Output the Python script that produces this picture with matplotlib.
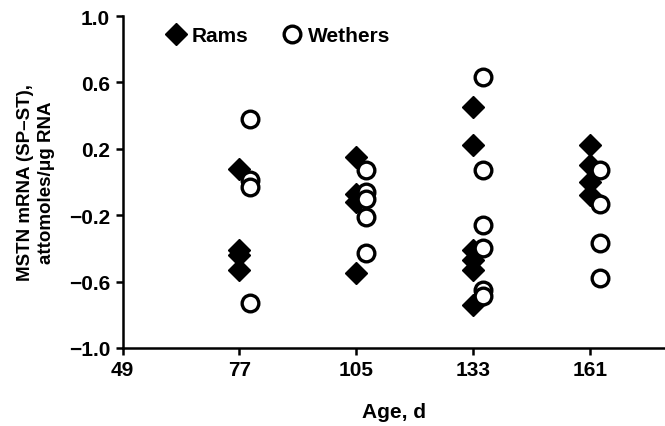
import matplotlib
matplotlib.use('Agg')
import matplotlib.pyplot as plt

plt.rcParams['font.family'] = ['Liberation Sans', 'DejaVu Sans']
plt.rcParams['font.weight'] = 'bold'

# age groups (d)
ages = [77, 105, 133, 161]

# MSTN mRNA (SP-ST), attomoles/ug RNA
rams = [
    [0.08, -0.41, -0.44, -0.53],
    [0.15, -0.07, -0.12, -0.55],
    [0.45, 0.22, -0.41, -0.47, -0.53, -0.74],
    [0.22, 0.10, 0.00, -0.08],
]
wethers = [
    [0.38, 0.01, -0.03, -0.73],
    [0.07, -0.06, -0.10, -0.21, -0.43],
    [0.63, 0.07, -0.26, -0.40, -0.65, -0.69],
    [0.07, -0.13, -0.37, -0.58],
]

xticks = [49, 77, 105, 133, 161]
yticks = [-1.0, -0.6, -0.2, 0.2, 0.6, 1.0]

fs = 15

fig = plt.figure(figsize=(6.65, 4.27), dpi=100)
ax = fig.add_axes([0.1845, 0.183, 0.8155, 0.777])

first = True
for age, r, w in zip(ages, rams, wethers):
    ax.plot([age] * len(r), r, linestyle='none', marker='D', markersize=11,
            color='black', label='Rams' if first else None, clip_on=False)
    ax.plot([age + 2.4] * len(w), w, linestyle='none', marker='o', markersize=12,
            markerfacecolor='white', markeredgecolor='black', markeredgewidth=2.4,
            label='Wethers' if first else None, clip_on=False)
    first = False

ax.set_xlim(49, 179)
ax.set_ylim(-1.0, 1.0)
ax.set_xticks(xticks)
ax.set_xticklabels([str(t) for t in xticks])
ax.set_yticks(yticks)
ax.set_yticklabels([f'{t:.1f}'.replace('-', '\u2212') for t in yticks])

for side in ['top', 'right']:
    ax.spines[side].set_visible(False)
for side in ['left', 'bottom']:
    ax.spines[side].set_linewidth(1.8)
ax.tick_params(axis='both', width=1.8, length=5, labelsize=fs, pad=4)

ax.set_xlabel('Age, d', fontsize=fs, fontweight='bold', labelpad=16)
ax.set_ylabel('MSTN mRNA (SP\u2013ST),\nattomoles/\u03bcg RNA', fontsize=13.5,
              fontweight='bold', linespacing=1.3)
ax.yaxis.set_label_coords(-0.125, 0.5)

ax.legend(loc='upper left', ncol=2, frameon=False, fontsize=fs,
          bbox_to_anchor=(0.06, 0.995), handletextpad=0.15, columnspacing=1.5,
          borderaxespad=0, handlelength=1.2)

fig.savefig('out.png', dpi=100)
